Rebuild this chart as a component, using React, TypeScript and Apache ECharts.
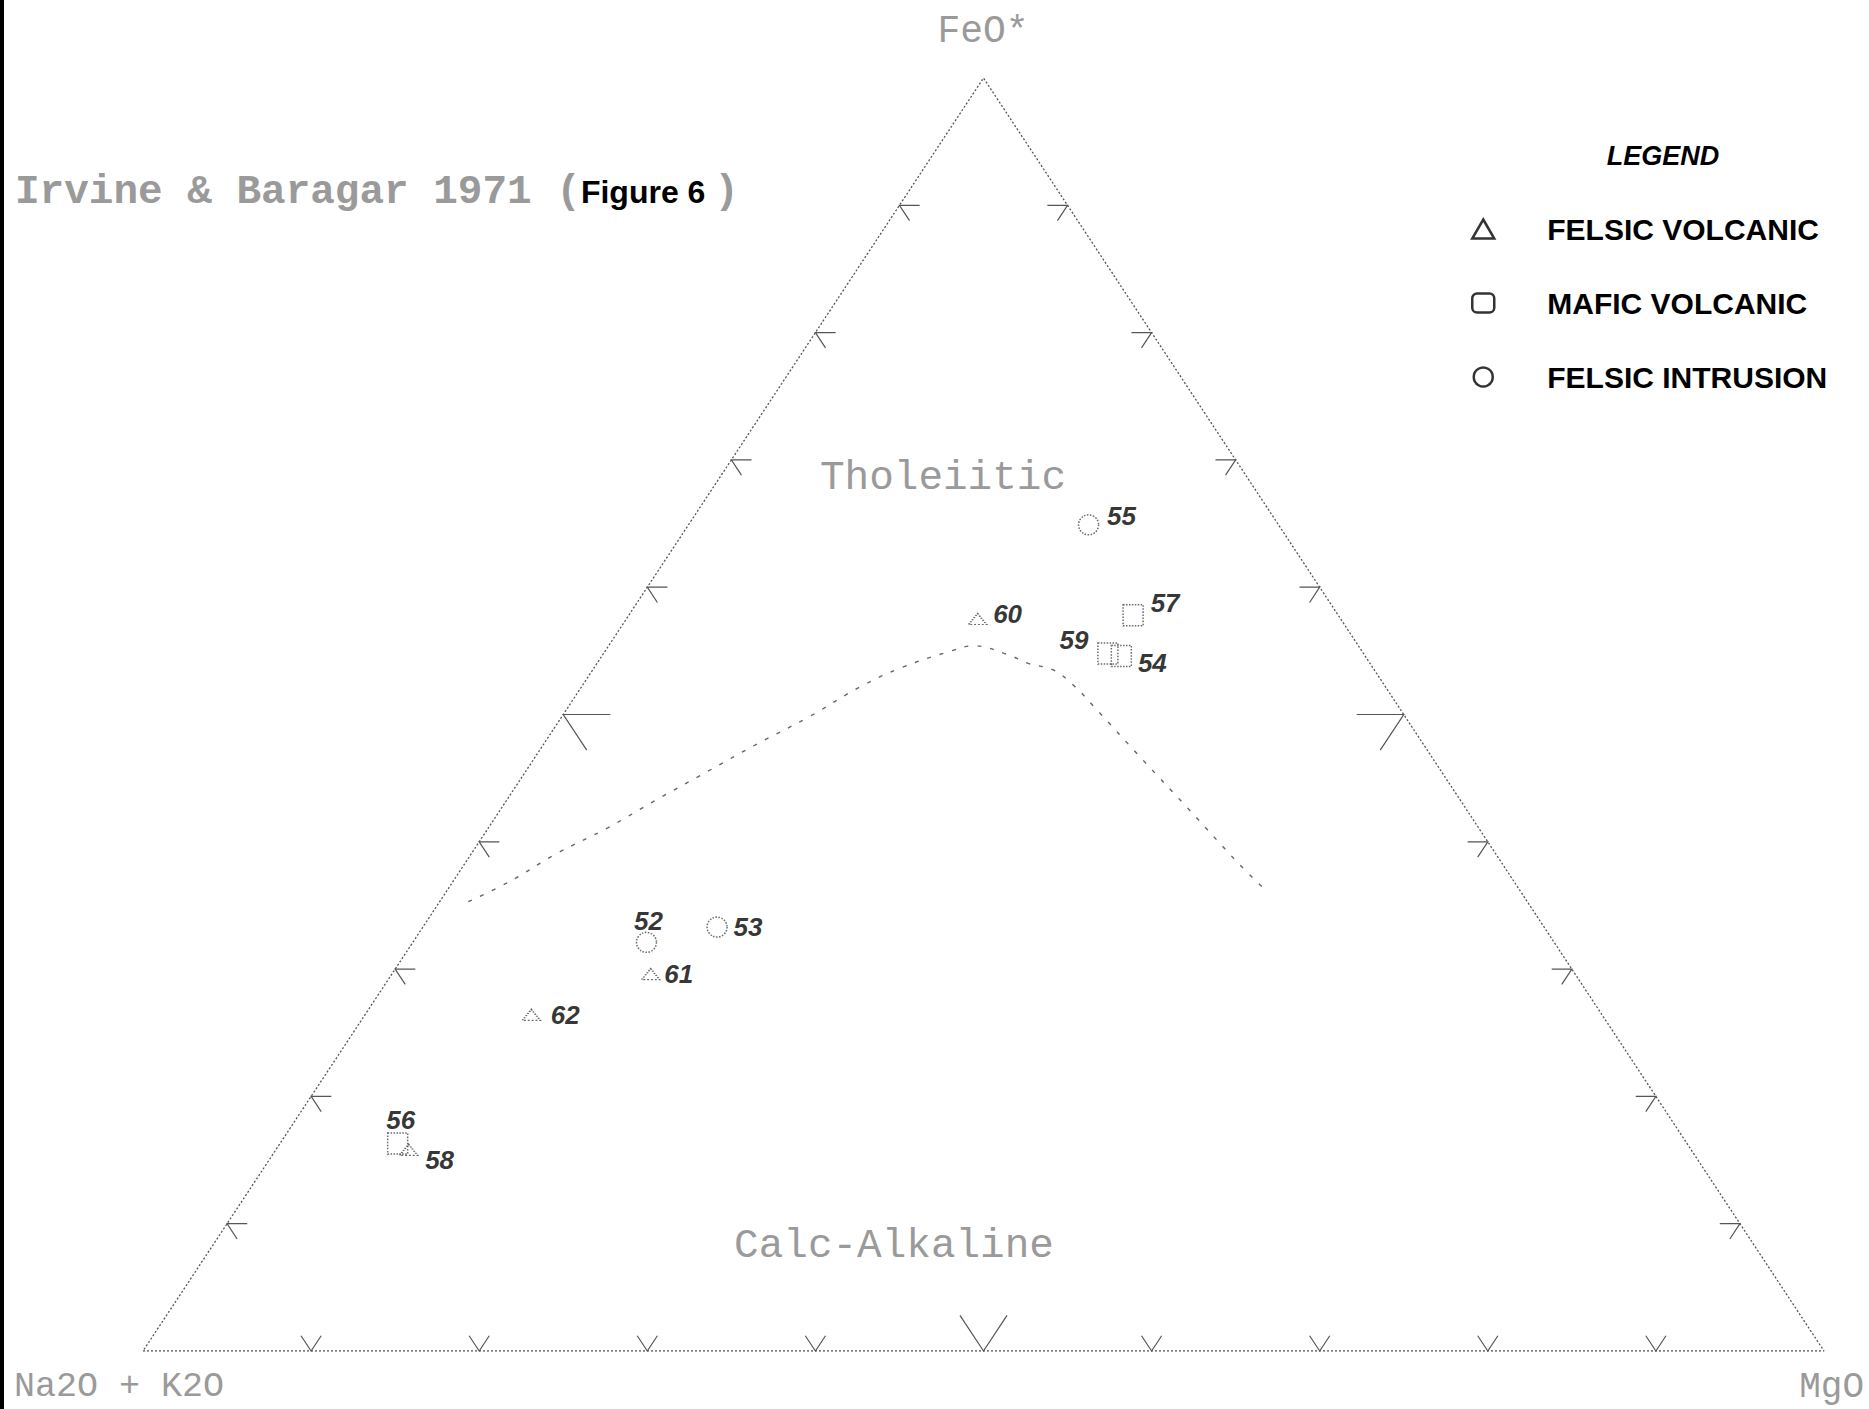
import React, { useEffect, useRef } from 'react';
import * as echarts from 'echarts';

// ---- Data (ternary compositions, percent: FeO*, Na2O+K2O, MgO) ----
const cornerLabels = ['FeO*', 'Na2O + K2O', 'MgO'];
const tickPercents = [10, 20, 30, 40, 50, 60, 70, 80, 90];

const felsicVolcanicIds = ['60', '61', '62', '58'];
const felsicVolcanicFeO = [57.5, 29.6, 26.4, 15.8];
const felsicVolcanicAlk = [21.6, 55.0, 63.7, 76.3];
const felsicVolcanicMgO = [20.9, 15.4, 9.9, 7.9];

const maficVolcanicIds = ['57', '59', '54', '56'];
const maficVolcanicFeO = [57.8, 54.8, 54.6, 16.3];
const maficVolcanicAlk = [12.2, 15.2, 14.5, 76.7];
const maficVolcanicMgO = [30.0, 30.0, 30.9, 7.0];

const felsicIntrusionIds = ['55', '52', '53'];
const felsicIntrusionFeO = [64.9, 32.1, 33.3];
const felsicIntrusionAlk = [11.3, 54.0, 49.2];
const felsicIntrusionMgO = [23.8, 13.9, 17.5];

// Irvine & Baragar (1971) tholeiitic / calc-alkaline boundary
const boundaryFeO = [35.3, 36.8, 39.1, 41.1, 43.3, 45.5, 47.7, 49.8, 52.2, 53.7, 55.0, 55.4, 54.7, 54.0, 53.5, 52.3, 50.5, 46.4, 42.5, 38.4, 36.1];
const boundaryMgO = [1.7, 3.3, 5.1, 7.1, 8.9, 10.8, 12.7, 14.7, 16.6, 18.3, 20.6, 21.7, 24.1, 25.7, 27.4, 29.2, 31.4, 36.3, 41.0, 45.9, 48.8];
const boundaryAlk = boundaryFeO.map((f, i) => 100 - f - boundaryMgO[i]);

const seriesNames = ['FELSIC VOLCANIC', 'MAFIC VOLCANIC', 'FELSIC INTRUSION'];

// ---- Styling / layout (not data) ----
const labelOffsets: Record<string, [number, number]> = {
  '55': [33, -9],
  '60': [30, -5],
  '57': [32, -12],
  '59': [-34, -13],
  '54': [31, 7],
  '52': [2, -21],
  '53': [31, 0],
  '61': [28, 0],
  '62': [34, 0],
  '56': [3, -24],
  '58': [31, 10],
};

const GREY = '#9a9a9a';
const MONO = '"Liberation Mono", "DejaVu Sans Mono", monospace';
const SANS = '"Liberation Sans", Arial, sans-serif';

function toXY(f: number, a: number, m: number): [number, number] {
  const s = f + a + m;
  return [((m + f / 2) / s) * 100, (f / s) * 100];
}

function buildPoints(ids: string[], feo: number[], alk: number[], mgo: number[]) {
  return ids.map((id, i) => {
    const off = labelOffsets[id] || [25, 0];
    return {
      name: id,
      value: toXY(feo[i], alk[i], mgo[i]),
      label: { offset: off },
    };
  });
}

function buildTicks() {
  const out: number[][] = [];
  tickPercents.forEach((p) => {
    const L = p === 50 ? 2.8 : 1.2;
    // left edge (MgO = 0)
    out.push([
      ...toXY(p, 100 - p - L, L),
      ...toXY(p, 100 - p, 0),
      ...toXY(p - L, 100 - p, L),
    ]);
    // right edge (Alk = 0)
    out.push([
      ...toXY(p, L, 100 - p - L),
      ...toXY(p, 0, 100 - p),
      ...toXY(p - L, L, 100 - p),
    ]);
    // bottom edge (FeO = 0)
    out.push([
      ...toXY(L, 100 - p - L, p),
      ...toXY(0, 100 - p, p),
      ...toXY(L, 100 - p, p - L),
    ]);
  });
  return out;
}

export default function App() {
  const ref = useRef<HTMLDivElement>(null);

  useEffect(() => {
    if (!ref.current) return;
    const chart = echarts.init(ref.current, undefined, { renderer: 'svg' });

    const edges = [toXY(0, 100, 0), toXY(0, 0, 100), toXY(100, 0, 0), toXY(0, 100, 0)];
    const boundary = boundaryFeO.map((f, i) => toXY(f, boundaryAlk[i], boundaryMgO[i]));

    const pointLabel = {
      show: true,
      position: 'inside',
      formatter: (p: any) => p.name,
      fontFamily: SANS,
      fontWeight: 'bold',
      fontStyle: 'italic',
      fontSize: 26,
      color: '#000',
    };
    const markerStyle = {
      color: 'rgba(0,0,0,0)',
      borderColor: '#444',
      borderWidth: 1.5,
      borderType: 'dotted',
    };

    const option: any = {
      animation: false,
      backgroundColor: '#fff',
      title: {
        left: 10,
        top: 166,
        text: '{a|Irvine & Baragar 1971 (}{b|Figure 6 }{a|)}',
        textStyle: {
          rich: {
            a: { fontFamily: MONO, fontSize: 41, color: GREY },
            b: { fontFamily: SANS, fontWeight: 'bold', fontSize: 32, color: '#000' },
          },
        },
      },
      legend: {
        orient: 'vertical',
        left: 1471,
        top: 214,
        padding: 0,
        itemWidth: 22,
        itemHeight: 19,
        itemGap: 44,
        selectedMode: false,
        textStyle: {
          fontFamily: SANS,
          fontWeight: 'bold',
          fontSize: 30,
          color: '#000',
          padding: [0, 0, 0, 48],
          lineHeight: 30,
        },
        data: [
          { name: seriesNames[0], icon: 'triangle', itemStyle: { color: 'rgba(0,0,0,0)', borderColor: '#000', borderWidth: 2.5 } },
          { name: seriesNames[1], icon: 'roundRect', itemStyle: { color: 'rgba(0,0,0,0)', borderColor: '#000', borderWidth: 2.5 } },
          { name: seriesNames[2], icon: 'circle', itemStyle: { color: 'rgba(0,0,0,0)', borderColor: '#000', borderWidth: 2.5 } },
        ],
      },
      grid: { left: 143, top: 78, width: 1681, height: 1273, containLabel: false },
      xAxis: { type: 'value', min: 0, max: 100, show: false },
      yAxis: { type: 'value', min: 0, max: 100, show: false },
      graphic: [
        { type: 'rect', shape: { x: 0, y: 0, width: 4, height: 1409 }, style: { fill: '#000' } },
        { type: 'text', x: 983, y: 31, style: { text: cornerLabels[0], fill: GREY, font: `38px ${MONO}`, align: 'center', verticalAlign: 'middle' } },
        { type: 'text', x: 14, y: 1387, style: { text: cornerLabels[1], fill: GREY, font: `35px ${MONO}`, align: 'left', verticalAlign: 'middle' } },
        { type: 'text', x: 1864, y: 1387, style: { text: cornerLabels[2], fill: GREY, font: `36px ${MONO}`, align: 'right', verticalAlign: 'middle' } },
        { type: 'text', x: 943, y: 478, style: { text: 'Tholeiitic', fill: GREY, font: `41px ${MONO}`, align: 'center', verticalAlign: 'middle' } },
        { type: 'text', x: 894, y: 1246, style: { text: 'Calc-Alkaline', fill: GREY, font: `41px ${MONO}`, align: 'center', verticalAlign: 'middle' } },
        { type: 'text', x: 1663, y: 156, style: { text: 'LEGEND', fill: '#000', font: `italic bold 27px ${SANS}`, align: 'center', verticalAlign: 'middle' } },
      ],
      series: [
        {
          name: 'edges',
          type: 'line',
          data: edges,
          symbol: 'none',
          silent: true,
          lineStyle: { color: '#555', width: 1.3, type: [2, 2] },
          z: 1,
        },
        {
          name: 'boundary',
          type: 'line',
          data: boundary,
          symbol: 'none',
          smooth: 0.4,
          silent: true,
          lineStyle: { color: '#666', width: 1.4, type: [4, 9] },
          z: 1,
        },
        {
          name: 'ticks',
          type: 'custom',
          silent: true,
          data: buildTicks(),
          renderItem: (params: any, api: any) => {
            const pts = [0, 1, 2].map((i) => api.coord([api.value(i * 2), api.value(i * 2 + 1)]));
            return {
              type: 'polyline',
              shape: { points: pts },
              style: { stroke: '#555', lineWidth: 1.2, fill: 'none' },
            };
          },
          z: 1,
        },
        {
          name: seriesNames[0],
          type: 'scatter',
          symbol: 'triangle',
          symbolSize: [18, 11],
          itemStyle: markerStyle,
          label: pointLabel,
          data: buildPoints(felsicVolcanicIds, felsicVolcanicFeO, felsicVolcanicAlk, felsicVolcanicMgO),
          z: 3,
        },
        {
          name: seriesNames[1],
          type: 'scatter',
          symbol: 'rect',
          symbolSize: [20, 21],
          itemStyle: markerStyle,
          label: pointLabel,
          data: buildPoints(maficVolcanicIds, maficVolcanicFeO, maficVolcanicAlk, maficVolcanicMgO),
          z: 3,
        },
        {
          name: seriesNames[2],
          type: 'scatter',
          symbol: 'circle',
          symbolSize: 20,
          itemStyle: markerStyle,
          label: pointLabel,
          data: buildPoints(felsicIntrusionIds, felsicIntrusionFeO, felsicIntrusionAlk, felsicIntrusionMgO),
          z: 3,
        },
      ],
    };

    chart.setOption(option);
    return () => chart.dispose();
  }, []);

  return (
    <div
      ref={ref}
      style={{ position: 'absolute', left: 0, top: 0, width: 1869, height: 1409, background: '#fff' }}
    />
  );
}
